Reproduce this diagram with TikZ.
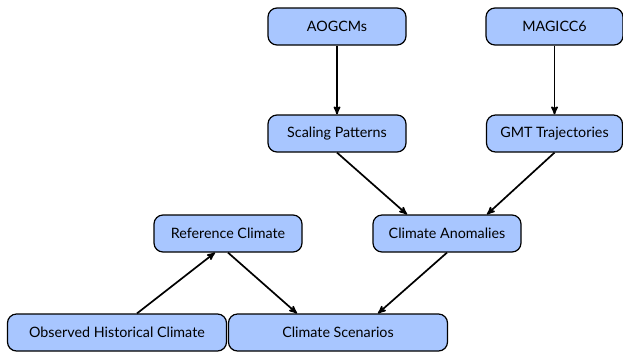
\documentclass[tikz,border=0pt]{standalone}
\usepackage{fontspec}
\setmainfont{Lato}
\usetikzlibrary{positioning, arrows}
\definecolor{boxblue}{RGB}{168,198,255}
\tikzset{
->, % directed edges
>=stealth', % bold arrow heads
node distance=107pt, % vertical step between the two top rows
block/.style={draw, fill=boxblue, rounded corners=9pt, minimum height=37pt,
  inner sep=2pt, font=\fontsize{14.3}{16}\selectfont, line width=1.2pt},
flow/.style={line width=1.7pt},
}
\begin{document}
\begin{tikzpicture}[x=1pt, y=-1pt]
                \useasboundingbox (0,0) rectangle (623,357);
                \node[block, minimum width=138pt] (aog) at (337,26.5) {AOGCMs};
                \node[block, minimum width=137pt] (mag) at (554.5,26.5) {MAGICC6};
                \node[block, minimum width=138pt, below of=aog] (sp) {Scaling Patterns};
                \node[block, minimum width=136pt, below of=mag] (gmt) {GMT Trajectories};
                \node[block, minimum width=148pt] (ca) at (447,233.5) {Climate Anomalies};
                \node[block, minimum width=148pt] (ref) at (228,233.5) {Reference Climate};
                \node[block, minimum width=219pt] (obs) at (117,332.5) {Observed Historical Climate};
                \node[block, minimum width=219pt] (cs) at (338,332.5) {Climate Scenarios};
                \path[flow]
                    (aog) edge (sp)
                    (mag) edge (gmt)
                    (sp.south) edge ([xshift=-40pt]ca.north)
                    (gmt.south) edge ([xshift=40pt]ca.north)
                    ([xshift=20pt]obs.north) edge ([xshift=-13pt]ref.south)
                    (ref.south) edge ([xshift=-41pt]cs.north)
                    (ca.south) edge ([xshift=40pt]cs.north)
                    ;
                \end{tikzpicture}
\end{document}
